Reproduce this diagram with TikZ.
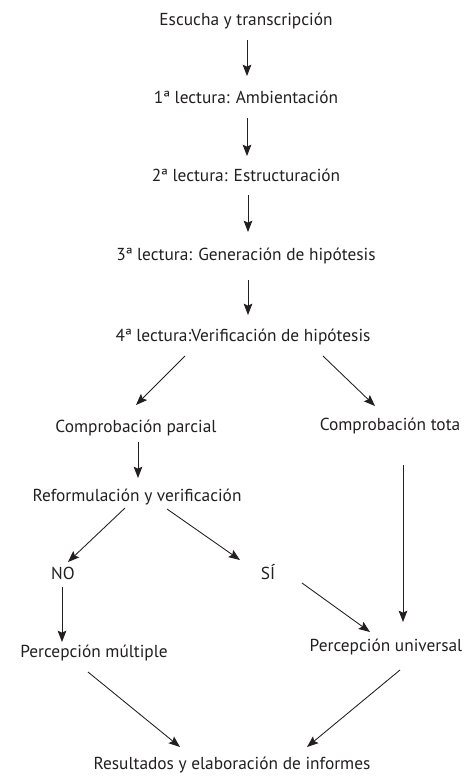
\documentclass[tikz,border=0pt]{standalone}
\usepackage{fontspec}
\setmainfont{PT Sans}
\usetikzlibrary{arrows.meta,calc}
\definecolor{ink}{RGB}{35,31,32}
\begin{document}
\begin{tikzpicture}[x=0.75pt,y=-0.75pt,
  txt/.style={inner sep=0pt,text height=9pt,text depth=2.7pt,text=ink,font=\fontsize{13}{15}\selectfont},
  arr/.style={draw=ink,line width=0.65pt,-{Stealth[length=8.5pt,width=6.5pt,inset=1.5pt]}}]
\useasboundingbox (0,0) rectangle (468,776);
% main column
\node[txt] (esc) at (246,21) {Escucha y transcripción};
\node[txt] (l1) at (246,99) {1ª lectura: Ambientación};
\node[txt] (l2) at (246,177) {2ª lectura: Estructuración};
\node[txt] (l3) at (246,256) {3ª lectura: Generación de hipótesis};
\node[txt] (l4) at (243,337) {4ª lectura:Verificación de hipótesis};
\draw[arr] ($(esc)+(1,19)$) -- ($(l1)+(1,-23)$);
\draw[arr] ($(l1)+(1,19)$) -- ($(l2)+(1,-21)$);
\draw[arr] ($(l2)+(2,18)$) -- ($(l3)+(2,-24)$);
\draw[arr] ($(l3)+(2,24)$) -- ($(l4)+(5,-22)$);
% branches
\node[txt] (cp) at (136,428) {Comprobación parcial};
\node[txt] (ct) at (390,426) {Comprobación tota};
\node[txt] (rv) at (137,497) {Reformulación y verificación};
\node[txt] (no) at (63,575) {NO};
\node[txt] (si) at (268,575) {SÍ};
\node[txt] (pm) at (94,653) {Percepción múltiple};
\node[txt] (pu) at (386,647) {Percepción universal};
\node[txt] (res) at (232,765) {Resultados y elaboración de informes};
\draw[arr] ($(l4)+(-58,19)$) -- ($(cp)+(0,-23)$);
\draw[arr] ($(l4)+(80,19)$) -- ($(ct)+(-15,-20)$);
\draw[arr] ($(cp)+(2,14)$) -- ($(rv)+(1,-19)$);
\draw[arr] ($(rv)+(-12,11)$) -- ($(no)+(5,-13)$);
\draw[arr] ($(rv)+(30,12)$) -- ($(si)+(-28,-15)$);
\draw[arr] ($(no)+(-1,12)$) -- ($(pm)+(-32,-11)$);
\draw[arr] ($(si)+(34,8)$) -- ($(pu)+(-16,-15)$);
\draw[arr] ($(ct)+(13,39)$) -- ($(pu)+(17,-25)$);
\draw[arr] ($(pm)+(-6,19)$) -- ($(res)+(-52,-18)$);
\draw[arr] ($(pu)+(14,23)$) -- ($(res)+(75,-18)$);
\end{tikzpicture}
\end{document}
